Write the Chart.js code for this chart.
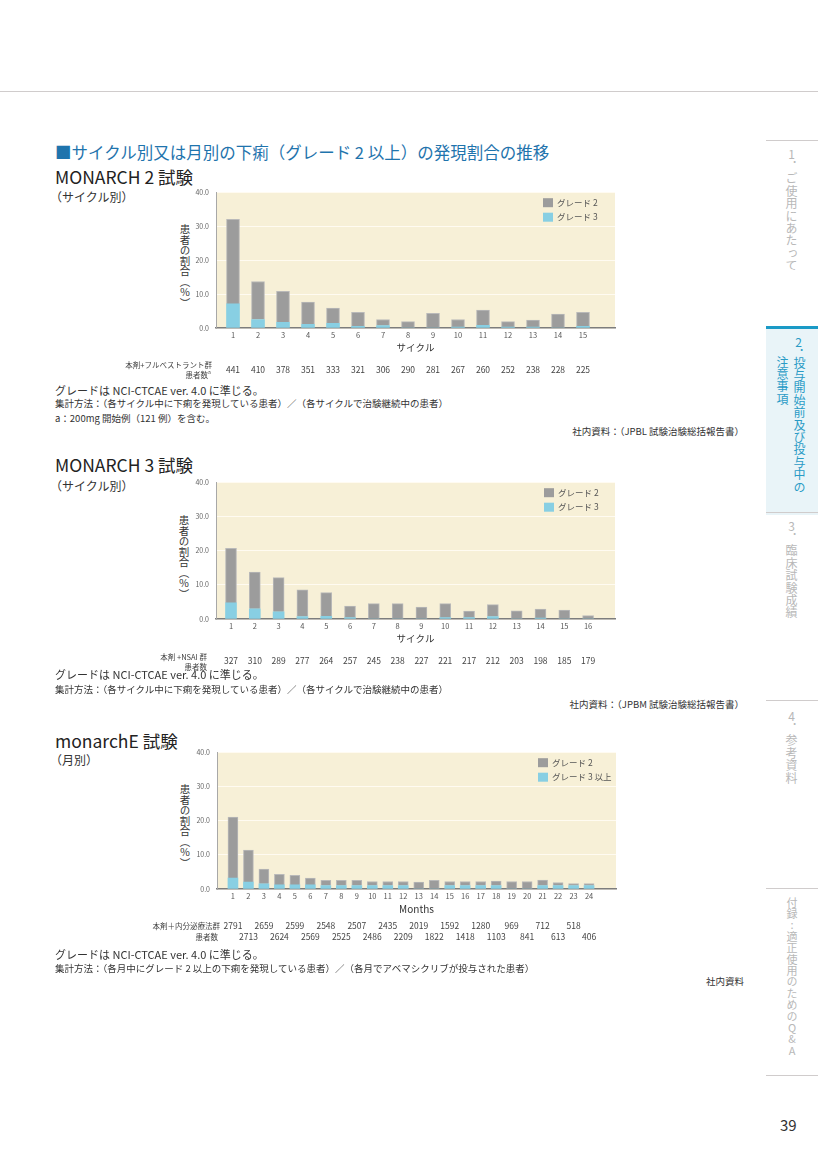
<!DOCTYPE html>
<html lang="ja">
<head>
<meta charset="UTF-8" />
<title>下痢の発現割合の推移</title>
<script src="https://cdn.jsdelivr.net/npm/chart.js"></script>
<style>
  body {
    margin: 0;
    width: 818px;
    height: 1157px;
    position: relative;
    background: #fff;
    font-family: "Noto Sans CJK JP", "Noto Sans", sans-serif;
    color: #333;
    overflow: hidden;
  }
  .t { position: absolute; white-space: nowrap; line-height: 1; }
  .r { text-align: right; }
  .vt {
    position: absolute;
    writing-mode: vertical-rl;
    text-orientation: upright;
    line-height: 1;
    white-space: nowrap;
  }
  .yt { text-orientation: mixed; font-size: 10.5px; color: #333; }
  .side { color: #b8b8b8; font-size: 12px; letter-spacing: 0.4px; }
  .hline { position: absolute; height: 1px; background: #d0cccc; }
  canvas { position: absolute; }
</style>
</head>
<body>
  <!-- page frame -->
  <div class="hline" style="left:0;top:91px;width:818px;"></div>
  <div class="hline" style="left:766px;top:140px;width:52px;"></div>
  <div style="position:absolute;left:766px;top:326px;width:52px;height:186px;background:#e9f4f8;border-top:3px solid #1a9ac6;"></div>
  <div class="hline" style="left:766px;top:512px;width:52px;"></div>
  <div class="hline" style="left:766px;top:700px;width:52px;"></div>
  <div class="hline" style="left:766px;top:888px;width:52px;"></div>
  <div class="hline" style="left:766px;top:1075px;width:52px;"></div>

  <div class="vt side" style="left:785px;top:148px;">1．ご使用にあたって</div>
  <div class="vt side" style="left:792px;top:336px;color:#2a9bc6;">2．</div>
  <div class="vt side" style="left:793px;top:357px;color:#2a9bc6;">投与開始前及び投与中の</div>
  <div class="vt side" style="left:776px;top:356px;color:#2a9bc6;">注意事項</div>
  <div class="vt side" style="left:785px;top:520px;">3．臨床試験成績</div>
  <div class="vt side" style="left:785px;top:710px;">4．参考資料</div>
  <div class="vt side" style="left:786px;top:897px;font-size:11px;">付録:適正使用のためのQ&amp;A</div>
  <div class="t" style="left:780px;top:1117px;font-size:15px;color:#333;">39</div>

  <!-- headings -->
  <div class="t" style="left:55px;top:144px;font-size:16.5px;color:#1f74ad;">■サイクル別又は月別の下痢（グレード 2 以上）の発現割合の推移</div>

  <div class="t" style="left:55px;top:168px;font-size:17.5px;color:#222;">MONARCH 2 試験</div>
  <div class="t" style="left:50px;top:191px;font-size:12px;color:#333;">（サイクル別）</div>
  <div class="vt yt" style="left:179px;top:224px;">患者の割合（％）</div>
  <canvas id="c1" width="520" height="200" style="left:100px;top:181px;"></canvas>
  <div class="t" style="left:55px;top:385px;font-size:11px;">グレードは NCI-CTCAE ver. 4.0 に準じる。</div>
  <div class="t" style="left:55px;top:399px;font-size:9.5px;">集計方法：（各サイクル中に下痢を発現している患者）／（各サイクルで治験継続中の患者）</div>
  <div class="t" style="left:55px;top:414px;font-size:9.5px;">a：200mg 開始例（121 例）を含む。</div>
  <div class="t r" style="right:74px;top:427px;font-size:9.5px;">社内資料：（JPBL 試験治験総括報告書）</div>

  <div class="t" style="left:55px;top:456px;font-size:17.5px;color:#222;">MONARCH 3 試験</div>
  <div class="t" style="left:50px;top:480px;font-size:12px;color:#333;">（サイクル別）</div>
  <div class="vt yt" style="left:178px;top:515px;">患者の割合（％）</div>
  <canvas id="c2" width="520" height="200" style="left:100px;top:471px;"></canvas>
  <div class="t" style="left:55px;top:669px;font-size:11px;">グレードは NCI-CTCAE ver. 4.0 に準じる。</div>
  <div class="t" style="left:55px;top:685px;font-size:9.5px;">集計方法：（各サイクル中に下痢を発現している患者）／（各サイクルで治験継続中の患者）</div>
  <div class="t r" style="right:74px;top:700px;font-size:9.5px;">社内資料：（JPBM 試験治験総括報告書）</div>

  <div class="t" style="left:55px;top:732px;font-size:17.5px;color:#222;">monarchE 試験</div>
  <div class="t" style="left:50px;top:754px;font-size:12px;color:#333;">（月別）</div>
  <div class="vt yt" style="left:179px;top:784px;">患者の割合（％）</div>
  <canvas id="c3" width="520" height="210" style="left:100px;top:741px;"></canvas>
  <div class="t" style="left:55px;top:949px;font-size:11px;">グレードは NCI-CTCAE ver. 4.0 に準じる。</div>
  <div class="t" style="left:55px;top:964px;font-size:9.5px;">集計方法：（各月中にグレード 2 以上の下痢を発現している患者）／（各月でアベマシクリブが投与された患者）</div>
  <div class="t r" style="right:74px;top:977px;font-size:9.5px;">社内資料</div>

<script>
  // MONARCH 2 (cycle)
  const m2Cycles = [1, 2, 3, 4, 5, 6, 7, 8, 9, 10, 11, 12, 13, 14, 15];
  const m2Grade2 = [24.9, 11.2, 9.1, 6.5, 4.5, 4.1, 1.8, 1.9, 4.3, 2.2, 4.5, 1.6, 2.0, 4.1, 4.1];
  const m2Grade3 = [7.1, 2.5, 1.7, 1.1, 1.4, 0.5, 0.7, 0, 0, 0.3, 0.8, 0.3, 0.3, 0, 0.5];
  const m2Patients = [441, 410, 378, 351, 333, 321, 306, 290, 281, 267, 260, 252, 238, 228, 225];

  // MONARCH 3 (cycle)
  const m3Cycles = [1, 2, 3, 4, 5, 6, 7, 8, 9, 10, 11, 12, 13, 14, 15, 16];
  const m3Grade2 = [16.0, 10.7, 10.0, 7.8, 6.9, 3.4, 4.5, 4.5, 3.5, 4.1, 1.9, 3.5, 2.4, 2.6, 2.6, 1.0];
  const m3Grade3 = [4.7, 3.0, 2.1, 0.7, 0.8, 0.4, 0, 0, 0, 0.4, 0.4, 0.7, 0, 0.3, 0, 0];
  const m3Patients = [327, 310, 289, 277, 264, 257, 245, 238, 227, 221, 217, 212, 203, 198, 185, 179];

  // monarchE (month)
  const meMonths = [1, 2, 3, 4, 5, 6, 7, 8, 9, 10, 11, 12, 13, 14, 15, 16, 17, 18, 19, 20, 21, 22, 23, 24];
  const meGrade2 = [17.8, 9.4, 4.3, 3.1, 2.8, 2.0, 1.5, 1.5, 1.5, 1.2, 1.2, 1.2, 2.0, 2.5, 1.2, 1.2, 1.2, 1.3, 2.2, 2.2, 1.6, 0.9, 0.6, 0.6];
  const meGrade3 = [3.2, 2.0, 1.5, 1.2, 1.2, 1.2, 1.0, 1.0, 1.0, 1.0, 1.0, 1.0, 0, 0, 1.0, 1.0, 1.0, 1.0, 0, 0, 1.0, 1.0, 1.0, 1.0];
  const mePatients = [2791, 2713, 2659, 2624, 2599, 2569, 2548, 2525, 2507, 2486, 2435, 2209,
                      2019, 1822, 1592, 1418, 1280, 1103, 969, 841, 712, 613, 518, 406];

  const GRAY = '#9c9c9c';
  const BLUE = '#88cfe3';
  const CREAM = '#f7f0d7';

  Chart.defaults.font.family = '"Noto Sans CJK JP", "Noto Sans", sans-serif';

  // cream plot background, legend inside the plot, axis title and patient rows
  function pagePlugin(o) {
    return {
      id: 'page',
      beforeDraw(chart) {
        const a = chart.chartArea, ctx = chart.ctx;
        ctx.save();
        ctx.fillStyle = CREAM;
        ctx.fillRect(a.left, a.top, a.right - a.left, a.bottom - a.top);
        ctx.restore();
      },
      afterDraw(chart) {
        const a = chart.chartArea, ctx = chart.ctx, x = chart.scales.x;
        ctx.save();
        // legend (grade 2 first)
        const ds = chart.data.datasets.slice().reverse();
        ctx.font = '8.5px "Noto Sans CJK JP"';
        ctx.textBaseline = 'middle';
        ds.forEach((d, i) => {
          const lx = a.right - o.legendRight, ly = a.top + 10.5 + i * 14.5;
          ctx.fillStyle = d.backgroundColor;
          ctx.fillRect(lx, ly - 4.5, 10, 9);
          ctx.fillStyle = '#555';
          ctx.textAlign = 'left';
          ctx.fillText(d.label, lx + 14, ly);
        });
        // x axis title
        ctx.fillStyle = '#333';
        ctx.textAlign = 'center';
        ctx.font = o.titleFont;
        ctx.fillText(o.xTitle, (a.left + a.right) / 2, a.bottom + o.titleDy);
        // patient numbers, placed on the x scale
        ctx.font = '8.5px "Noto Sans CJK JP"';
        ctx.fillStyle = '#444';
        o.patients.forEach((n, i) => {
          const dy = o.rowDy[i % o.rowDy.length];
          ctx.fillText(String(n), x.getPixelForValue(o.cats[i]), a.bottom + dy);
        });
        // row label
        ctx.textAlign = 'right';
        ctx.font = '7.5px "Noto Sans CJK JP"';
        ctx.fillStyle = '#444';
        o.rowLabel.forEach(t => {
          ctx.fillText(t[0], a.left + t[1], a.bottom + t[2]);
        });
        if (o.sup) {
          ctx.font = '5px "Noto Sans CJK JP"';
          ctx.textAlign = 'left';
          ctx.fillText('a', a.left + o.sup[0], a.bottom + o.sup[1]);
        }
        ctx.restore();
      }
    };
  }

  function makeChart(id, o) {
    const toXY = arr => arr.map((v, i) => ({ x: o.cats[i], y: v }));
    return new Chart(document.getElementById(id), {
      type: 'bar',
      data: {
        datasets: [
          { label: o.g3Label, data: toXY(o.g3), backgroundColor: BLUE,
            barThickness: o.barW, borderWidth: 0 },
          { label: 'グレード 2', data: toXY(o.g2), backgroundColor: GRAY,
            barThickness: o.barW, borderWidth: { top: 1, left: 1, right: 1, bottom: 0 },
            borderColor: '#b9b9b9', borderSkipped: 'bottom' }
        ]
      },
      options: {
        responsive: false,
        animation: false,
        events: [],
        devicePixelRatio: 1,
        layout: { padding: { left: 0, right: o.padRight, top: 10, bottom: 0 } },
        plugins: { legend: { display: false }, tooltip: { enabled: false } },
        scales: {
          x: {
            type: 'linear',
            offset: false,
            min: o.xMin,
            max: o.xMax,
            stacked: true,
            grid: { display: false, drawTicks: false },
            border: { color: '#7d7d7d', width: 1.5 },
            ticks: { font: { size: 7.5 }, color: '#555', padding: 3 },
            afterBuildTicks: s => { s.ticks = o.cats.map(v => ({ value: v })); },
            afterFit: s => { s.height = o.xAxisH; }
          },
          y: {
            min: 0,
            max: 40,
            stacked: true,
            grid: { color: '#fffbf1', lineWidth: 1, drawTicks: false },
            border: { color: '#a8a8a8', width: 1 },
            ticks: { stepSize: 10, font: { size: 7 }, color: '#666', padding: 7,
                     callback: v => v.toFixed(1) },
            afterFit: s => { s.width = o.yAxisW; }
          }
        }
      },
      plugins: [pagePlugin(o)]
    });
  }

  makeChart('c1', {
    cats: m2Cycles, g2: m2Grade2, g3: m2Grade3, g3Label: 'グレード 3',
    xMin: 0.32, xMax: 16.28, barW: 13, yAxisW: 116, padRight: 5, xAxisH: 53,
    legendRight: 72, xTitle: 'サイクル', titleFont: '9.5px "Noto Sans CJK JP"', titleDy: 19,
    patients: m2Patients, rowDy: [42],
    rowLabel: [['本剤+フルベストラント群', -4, 37], ['患者数', -8, 47]], sup: [-8, 44]
  });

  makeChart('c2', {
    cats: m3Cycles, g2: m3Grade2, g3: m3Grade3, g3Label: 'グレード 3',
    xMin: 0.37, xMax: 17.13, barW: 11, yAxisW: 116, padRight: 5, xAxisH: 52,
    legendRight: 71, xTitle: 'サイクル', titleFont: '9.5px "Noto Sans CJK JP"', titleDy: 19,
    patients: m3Patients, rowDy: [42],
    rowLabel: [['本剤 +NSAI 群', -9, 38], ['患者数', -9, 48]]
  });

  makeChart('c3', {
    cats: meMonths, g2: meGrade2, g3: meGrade3, g3Label: 'グレード 3 以上',
    xMin: -0.03, xMax: 25.74, barW: 10, yAxisW: 117, padRight: 4, xAxisH: 62,
    legendRight: 78, xTitle: 'Months', titleFont: '10px "Noto Sans CJK JP"', titleDy: 20,
    patients: mePatients, rowDy: [37, 48],
    rowLabel: [['本剤＋内分泌療法群', 3, 37], ['患者数', 1, 48]]
  });
</script>
</body>
</html>
